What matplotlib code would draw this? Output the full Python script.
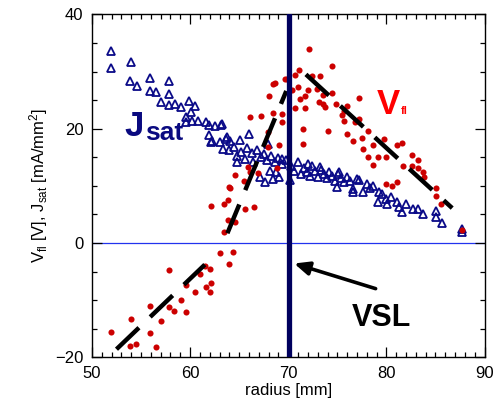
import matplotlib
matplotlib.use('Agg')
import matplotlib.pyplot as plt
from matplotlib.ticker import MultipleLocator

plt.rcParams['font.family'] = ['Liberation Sans', 'DejaVu Sans']
plt.rcParams['mathtext.default'] = 'regular'

# Jsat (blue open triangles)
jsat_r = [51.9, 51.9, 54.0, 53.9, 54.6, 55.9, 55.9, 56.5, 57.9, 57.9, 57.0, 57.9,
          58.5, 59.1, 59.9, 60.5, 60.1, 59.6, 59.6, 60.2, 60.8, 61.6, 61.9, 62.5,
          63.1, 61.9, 62.1, 63.0, 63.7, 63.2, 63.8, 66.0, 67.9, 62.2, 64.1, 65.1,
          64.8, 64.8, 65.6, 66.4, 67.1, 68.1, 68.8, 69.1,
          63.4, 64.0, 64.5, 65.2, 65.8, 66.3, 66.8, 67.2, 67.5, 67.8, 68.2, 68.6,
          69.0, 69.4, 69.8, 70.3, 70.6, 71.0, 71.3, 71.6, 71.9, 72.2, 72.4, 72.7,
          73.0, 73.3, 73.6, 73.9, 74.2, 74.5, 74.8, 75.1, 75.4, 75.7, 76.0, 76.3,
          76.6, 77.0, 77.2, 77.6, 78.0, 78.3, 78.6, 79.2, 79.1, 79.5, 80.0, 80.1,
          80.5, 81.1, 81.3, 81.6, 82.0, 82.7, 83.2, 83.7, 85.1, 85.1, 85.7, 87.7,
          87.7, 69.4, 72.0, 73.2, 75.2, 75.0, 76.6, 70.2, 68.4, 67.6]
jsat_v = [33.6, 30.6, 31.6, 28.3, 27.4, 28.8, 26.6, 26.4, 28.3, 26.0, 24.7, 24.1,
          24.3, 23.8, 24.8, 24.0, 22.9, 22.0, 21.2, 21.3, 21.3, 21.2, 20.6, 20.5,
          20.6, 18.9, 17.7, 17.7, 18.2, 20.8, 18.5, 19.1, 17.3, 17.8, 17.9, 18.0,
          15.2, 14.2, 14.7, 14.2, 11.5, 12.6, 12.5, 11.6,
          16.5, 16.3, 16.8, 16.0, 16.6, 15.8, 16.2, 15.0, 15.6, 14.6, 15.3, 14.2,
          14.8, 13.8, 14.5, 13.5, 12.6, 14.2, 12.0, 13.2, 12.4, 11.8, 13.4, 12.6,
          11.5, 12.8, 12.1, 11.3, 12.5, 11.8, 10.9, 12.1, 11.4, 10.6, 11.6, 10.8,
          9.4, 11.2, 11.0, 8.9, 10.4, 9.6, 10.0, 8.9, 7.2, 8.5, 7.7, 6.8,
          8.0, 7.2, 6.3, 5.4, 6.8, 5.9, 5.9, 5.1, 5.6, 4.5, 3.5, 2.4,
          2.0, 14.7, 13.8, 13.3, 12.4, 9.8, 8.9, 11.0, 11.2, 10.6]

# Vfl (red dots)
vfl_r = [51.9, 54.0, 53.9, 54.5, 55.9, 55.9, 56.5, 57.0, 57.8, 57.8, 58.4, 59.1,
         59.6, 59.6, 60.5, 61.0, 61.5, 62.0, 61.6, 62.0, 62.1, 63.0, 64.4, 64.0,
         63.5, 63.9, 64.6, 62.1, 63.5, 63.9, 64.1, 65.6, 66.5, 65.5, 64.6, 65.9,
         66.1, 66.9, 68.9, 67.9, 69.1, 67.9, 66.1, 67.2, 68.4, 69.4, 71.5, 71.5,
         69.4, 68.6, 69.9, 70.7, 71.1, 72.1, 74.5, 72.4, 73.2, 71.0, 70.4, 72.0,
         72.9, 71.7, 71.2, 73.5, 74.5, 73.1, 73.5, 73.7, 74.9, 70.7, 71.7, 75.7,
         75.5, 75.7, 74.0, 76.0, 76.6, 77.2, 76.0, 76.8, 77.2, 77.5, 78.1, 79.8,
         78.6, 77.6, 78.1, 79.1, 80.0, 78.6, 81.1, 81.6, 82.6, 83.2, 81.7, 82.6,
         83.2, 83.7, 83.8, 80.0, 80.6, 81.1, 85.1, 85.1, 85.6, 87.7, 68.0, 68.4,
         69.7, 64.0]
vfl_v = [-15.6, -13.3, -18.0, -17.7, -11.0, -15.7, -18.2, -13.6, -4.7, -11.2, -11.9, -10.0,
         -7.3, -12.1, -8.6, -5.4, -4.0, -4.5, -7.7, -8.6, -7.0, -1.7, -1.6, -3.7,
         1.9, 4.0, 3.7, 6.5, 6.8, 7.5, 9.6, 5.9, 6.3, 10.8, 11.9, 13.3,
         12.5, 12.2, 13.1, 16.8, 17.1, 19.4, 22.0, 22.2, 22.7, 22.6, 19.9, 17.3,
         21.2, 28.0, 28.7, 29.4, 30.2, 33.9, 30.9, 29.2, 29.2, 27.3, 26.7, 26.7,
         26.9, 25.7, 25.2, 25.9, 26.2, 24.7, 24.3, 23.8, 24.3, 23.6, 23.6, 23.1,
         22.4, 21.3, 19.6, 19.1, 17.8, 25.3, 24.0, 21.2, 21.7, 18.4, 19.6, 18.2,
         17.1, 16.4, 15.0, 15.0, 15.0, 13.6, 17.1, 17.5, 15.4, 14.5, 13.5, 13.5,
         13.1, 12.4, 11.5, 10.3, 10.0, 10.7, 9.6, 8.2, 6.8, 2.2, 25.7, 27.8,
         28.7, 9.8]

# piecewise fits (dashed black)
fit1_r = [52.5, 61.5]
fit1_v = [-18.6, -3.8]
fit2_r = [63.8, 69.8]
fit2_v = [1.7, 26.6]
fit3_r = [71.8, 86.7]
fit3_v = [29.5, 6.1]

vsl_r = 70.1

fig = plt.figure(figsize=(4.97, 4.12), dpi=100)
ax = fig.add_axes([0.185, 0.133, 0.79, 0.832])

ax.axhline(0, color='#2233ee', lw=0.9, zorder=1)
ax.plot(jsat_r, jsat_v, ls='none', marker='^', ms=5.6, mfc='none',
        mec='#0a0a88', mew=1.3, zorder=2)
ax.plot(vfl_r, vfl_v, ls='none', marker='o', ms=4.4, mfc='#cc0000',
        mec='#cc0000', mew=0, zorder=3)
for fr, fv in [(fit1_r, fit1_v), (fit2_r, fit2_v), (fit3_r, fit3_v)]:
    ax.plot(fr, fv, color='black', lw=3.2, ls=(0, (7, 3.5)),
            solid_capstyle='butt', dash_capstyle='butt', zorder=4)
ax.axvline(vsl_r, color='#00005e', lw=3.8, zorder=5)

ax.annotate('', xy=(70.6, -3.6), xytext=(78.9, -8.0),
            arrowprops=dict(arrowstyle='-|>,head_length=0.9,head_width=0.4',
                            color='black', lw=2.6, shrinkA=0, shrinkB=0),
            zorder=6)
ax.text(76.5, -14.6, 'VSL', fontsize=22, fontweight='bold', color='black')
ax.text(53.3, 18.7, 'J', fontsize=25, fontweight='bold', color='#0a0a80')
ax.text(55.4, 18.0, 'sat', fontsize=19, fontweight='bold', color='#0a0a80')
ax.text(79.0, 22.6, 'V', fontsize=25, fontweight='bold', color='#ff0000')
ax.text(81.5, 22.6, 'fl', fontsize=8, fontweight='bold', color='#ff0000')

ax.set_xlim(50, 90)
ax.set_ylim(-20, 40)
ax.xaxis.set_major_locator(MultipleLocator(10))
ax.xaxis.set_minor_locator(MultipleLocator(1))
ax.yaxis.set_major_locator(MultipleLocator(20))
ax.yaxis.set_minor_locator(MultipleLocator(5))
ax.tick_params(which='both', direction='in', top=True, right=True,
               labelsize=12, width=0.9, pad=6)
ax.tick_params(which='major', length=7)
ax.tick_params(which='minor', length=3.5)
for s in ax.spines.values():
    s.set_linewidth(1.0)

ax.set_xlabel('radius [mm]', fontsize=12, labelpad=2)
ax.set_ylabel(r'V$_{fl}$ [V], J$_{sat}$ [mA/mm$^2$]', fontsize=12, labelpad=4)

fig.savefig('out.png', dpi=100)
